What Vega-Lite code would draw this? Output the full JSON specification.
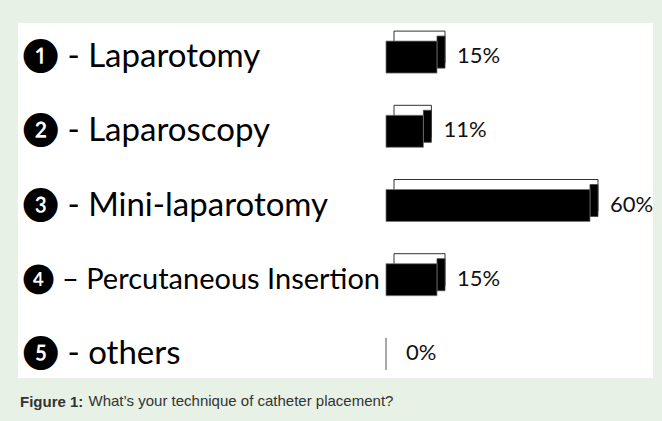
{
  "$schema": "https://vega.github.io/schema/vega-lite/v6.json",
  "width": 635,
  "height": 355,
  "autosize": {"type": "none"},
  "padding": {"left": 18, "top": 23, "right": 9, "bottom": 43},
  "background": "#e8f1e6",
  "title": {
    "text": "Figure 1:",
    "orient": "bottom",
    "anchor": "start",
    "font": "Liberation Sans, Arial, sans-serif",
    "fontSize": 15,
    "fontWeight": "bold",
    "color": "#333333",
    "offset": -13,
    "dx": 2
  },
  "data": {
    "values": [
      {"technique": "❶ - Laparotomy", "pct": 0.15},
      {"technique": "❷ - Laparoscopy", "pct": 0.11},
      {"technique": "❸ - Mini-laparotomy", "pct": 0.60},
      {"technique": "❹ – Percutaneous Insertion", "pct": 0.15},
      {"technique": "❺ - others", "pct": 0.0}
    ]
  },
  "encoding": {
    "y": {
      "field": "technique",
      "type": "nominal",
      "sort": null,
      "scale": {"range": [-3, 368], "paddingInner": 0, "paddingOuter": 0},
      "axis": {
        "title": null,
        "domain": false,
        "ticks": false,
        "tickSize": 0,
        "labelPadding": -4,
        "labelAlign": "left",
        "labelBaseline": "middle",
        "labelFont": "Lato, DejaVu Sans, sans-serif",
        "labelFontSize": {"expr": "indexof(datum.label, 'Percutaneous') >= 0 ? 29 : 33"},
        "labelColor": "#000000",
        "labelLimit": 0
      }
    },
    "x": {
      "field": "pct",
      "type": "quantitative",
      "scale": {"domain": [-1.0824, 0.7853], "nice": false, "zero": false},
      "axis": {
        "title": "What’s your technique of catheter placement?",
        "labels": false,
        "ticks": false,
        "domain": false,
        "grid": false,
        "titleX": 70,
        "titleY": 27,
        "titleAlign": "left",
        "titleAnchor": "start",
        "titleBaseline": "alphabetic",
        "titleFont": "Liberation Sans, Arial, sans-serif",
        "titleFontSize": 15,
        "titleFontWeight": "normal",
        "titleColor": "#333333"
      }
    }
  },
  "layer": [
    {
      "transform": [{"filter": "datum.pct > 0"}],
      "mark": {"type": "bar", "fill": "#ffffff", "stroke": "#333333", "strokeWidth": 1, "size": 32, "xOffset": 8, "x2Offset": 8, "yOffset": -10},
      "encoding": {"x2": {"datum": 0}}
    },
    {
      "transform": [{"filter": "datum.pct > 0"}],
      "mark": {"type": "bar", "fill": "#000000", "stroke": "#444444", "strokeWidth": 0.8, "size": 32, "xOffset": 0, "x2Offset": 8, "yOffset": -5},
      "encoding": {"x2": {"field": "pct"}}
    },
    {
      "mark": {"type": "bar", "fill": "#000000", "stroke": "#777777", "strokeWidth": 0.8, "size": 32},
      "encoding": {"x2": {"datum": 0}}
    },
    {
      "mark": {"type": "text", "align": "left", "baseline": "middle", "dx": 20, "dy": -1, "font": "Lato, DejaVu Sans, sans-serif", "fontSize": 22, "color": "#111111"},
      "encoding": {"text": {"field": "pct", "type": "quantitative", "format": ".0%"}}
    }
  ],
  "config": {
    "view": {"fill": "#ffffff", "stroke": null}
  }
}
